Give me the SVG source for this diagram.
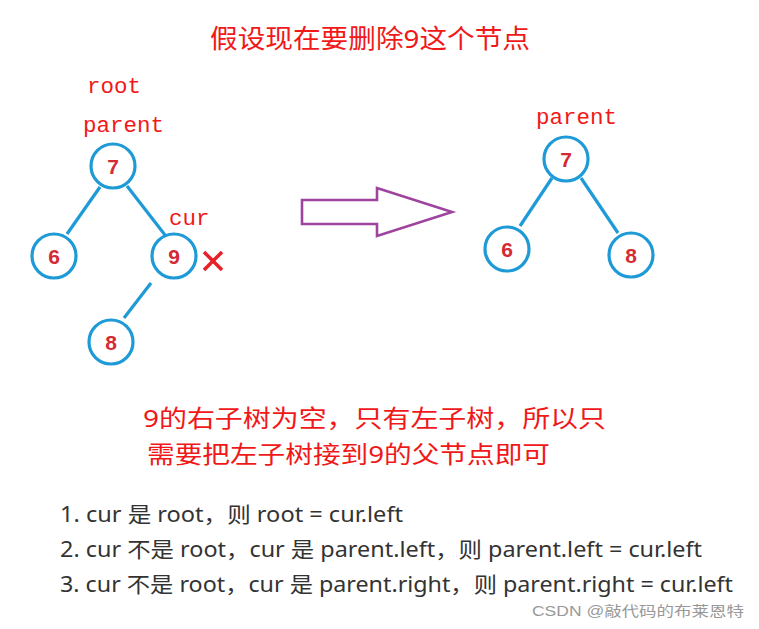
<svg xmlns="http://www.w3.org/2000/svg" width="759" height="629" viewBox="0 0 759 629">
<style>
.n{fill:#fff;stroke:#1E9AD6;stroke-width:3.2}
.e{stroke:#1E9AD6;stroke-width:3.2;fill:none}
.v{font-family:"Liberation Sans",Arial,sans-serif;font-weight:bold;font-size:21px;fill:#D42A33;text-anchor:middle}
.m{font-family:"Liberation Mono","DejaVu Sans Mono",monospace;font-size:22.5px;fill:#F01818}
.r{font-family:"Noto Sans","Noto Sans CJK SC",sans-serif;fill:#F01818}
.t{font-family:"Noto Sans","Noto Sans CJK SC",sans-serif;font-size:21px;fill:#333}
</style>
<rect width="759" height="629" fill="#fff"/>
<text class="r" x="210" y="48" font-size="26" textLength="320" lengthAdjust="spacingAndGlyphs">假设现在要删除9这个节点</text>
<text class="m" x="87" y="93">root</text>
<text class="m" x="83" y="132">parent</text>
<text class="m" x="169" y="225">cur</text>
<text class="m" x="536" y="124">parent</text>
<g id="connectors">
<line class="e" x1="100" y1="187" x2="67" y2="234"/>
<line class="e" x1="127" y1="186" x2="165" y2="235"/>
<line class="e" x1="151" y1="283" x2="124" y2="318"/>
<line class="e" x1="552" y1="178" x2="520" y2="226"/>
<line class="e" x1="581" y1="178" x2="618" y2="233"/>
</g>
<g id="n7a"><circle class="n" cx="113" cy="166" r="22"/><text class="v" x="113" y="174">7</text></g>
<g id="n6a"><circle class="n" cx="54" cy="256" r="22"/><text class="v" x="54" y="264">6</text></g>
<g id="n9a"><circle class="n" cx="174" cy="256" r="22"/><text class="v" x="174" y="264">9</text></g>
<g id="n8a"><circle class="n" cx="111" cy="342" r="22"/><text class="v" x="111" y="350">8</text></g>
<g id="xmark" stroke="#E8202A" stroke-width="3.5"><line x1="204" y1="252" x2="222" y2="270"/><line x1="222" y1="252" x2="204" y2="270"/></g>
<g id="arrow"><polygon points="302,200 377,200 377,188 452,212 377,236 377,224 302,224" fill="#fff" stroke="#9E449E" stroke-width="2.6"/></g>
<g id="n7b"><circle class="n" cx="566" cy="159" r="22"/><text class="v" x="566" y="167">7</text></g>
<g id="n6b"><circle class="n" cx="507" cy="249" r="22"/><text class="v" x="507" y="257">6</text></g>
<g id="n8b"><circle class="n" cx="631" cy="255" r="22"/><text class="v" x="631" y="263">8</text></g>
<text class="r" x="143" y="427" font-size="24" textLength="463" lengthAdjust="spacingAndGlyphs">9的右子树为空，只有左子树，所以只</text>
<text class="r" x="147" y="463" font-size="24" textLength="403" lengthAdjust="spacingAndGlyphs">需要把左子树接到9的父节点即可</text>
<text class="t" x="60" y="522" textLength="343" lengthAdjust="spacingAndGlyphs">1. cur 是 root，则 root = cur.left</text>
<text class="t" x="60" y="557" textLength="642" lengthAdjust="spacingAndGlyphs">2. cur 不是 root，cur 是 parent.left，则 parent.left = cur.left</text>
<text class="t" x="60" y="592" textLength="673" lengthAdjust="spacingAndGlyphs">3. cur 不是 root，cur 是 parent.right，则 parent.right = cur.left</text>
<text x="532" y="616" font-family="'Liberation Sans','Noto Sans CJK SC',sans-serif" font-size="14" fill="#999" textLength="212" lengthAdjust="spacingAndGlyphs">CSDN @敲代码的布莱恩特</text>
</svg>
